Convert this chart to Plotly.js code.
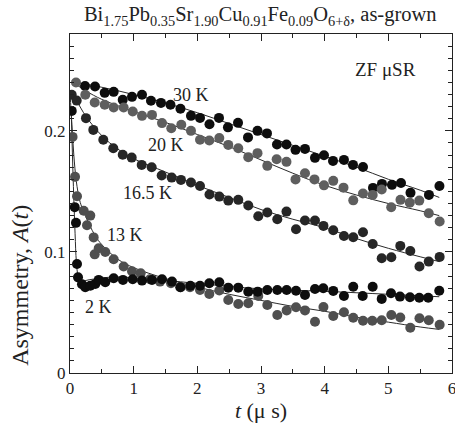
<!DOCTYPE html>
<html>
<head>
<meta charset="utf-8">
<script src="https://cdn.plot.ly/plotly-3.0.1.min.js"></script>
<style>html,body{margin:0;padding:0;background:#fff}#chart{width:455px;height:427px}</style>
</head>
<body>
<div id="chart"></div>
<script>
// ---- data (t in microseconds, asymmetry A(t)) ----
const t30 = [0.236,0.393,0.545,0.686,0.828,0.974,1.131,1.272,1.429,1.578,1.735,1.900,2.042,2.191,2.340,2.481,2.639,2.796,2.945,3.094,3.251,3.400,3.542,3.691,3.848,3.989,4.131,4.303,4.445,4.602,4.759,4.900,5.057,5.199,5.348,5.638,5.803];
const a30 = [0.237,0.2366,0.2314,0.2322,0.2256,0.2281,0.2298,0.2248,0.2231,0.2215,0.2182,0.2124,0.2107,0.2054,0.2107,0.2029,0.2066,0.1946,0.2000,0.1979,0.1888,0.1888,0.1843,0.1851,0.1777,0.1798,0.1752,0.1760,0.1719,0.1702,0.1529,0.1562,0.1554,0.1570,0.1488,0.1471,0.1545];

const t20 = [0.094,0.240,0.388,0.545,0.686,0.843,0.985,1.131,1.288,1.445,1.591,1.748,1.900,2.042,2.188,2.345,2.486,2.643,2.800,2.945,3.099,3.246,3.400,3.542,3.691,3.840,3.989,4.135,4.296,4.449,4.602,4.754,4.896,5.045,5.191,5.337,5.486,5.635,5.806];
const a20 = [0.2399,0.2298,0.2234,0.2215,0.2193,0.2193,0.2160,0.2124,0.2132,0.2064,0.2022,0.2050,0.2000,0.1926,0.1920,0.1940,0.1884,0.1857,0.1783,0.1816,0.1711,0.1766,0.1744,0.1599,0.1650,0.1599,0.1550,0.1587,0.1531,0.1426,0.1482,0.1471,0.1515,0.1369,0.1430,0.1407,0.1424,0.1320,0.1252];

const t165 = [0.027,0.105,0.251,0.366,0.523,0.680,0.828,0.969,1.126,1.283,1.440,1.597,1.743,1.900,2.042,2.191,2.345,2.486,2.643,2.800,2.957,3.099,3.256,3.400,3.550,3.691,3.848,3.981,4.135,4.303,4.449,4.602,4.754,4.896,5.047,5.188,5.345,5.489,5.635,5.806];
const a165 = [0.2298,0.2250,0.2105,0.2008,0.1926,0.1857,0.1802,0.1779,0.1719,0.1700,0.1631,0.1614,0.1595,0.1573,0.1545,0.1475,0.1457,0.1424,0.1430,0.1384,0.1295,0.1325,0.1270,0.1333,0.1188,0.1259,0.1259,0.1215,0.1179,0.1132,0.1121,0.1163,0.1066,0.0948,0.0956,0.1050,0.1008,0.0879,0.0920,0.0959];

const t13 = [0.040,0.079,0.110,0.215,0.267,0.319,0.372,0.388,0.451,0.554,0.686,0.843,0.974,1.110,1.256,1.414,1.586,1.739,1.885,2.042,2.188,2.345,2.486,2.643,2.800,2.957,3.099,3.256,3.403,3.550,3.691,3.848,3.981,4.135,4.303,4.449,4.602,4.748,4.896,5.047,5.188,5.345,5.489,5.635,5.806];
const a13 = [0.195,0.162,0.146,0.134,0.122,0.130,0.112,0.098,0.103,0.100,0.094,0.088,0.084,0.0824,0.0774,0.0755,0.0741,0.0708,0.0708,0.0686,0.0653,0.0682,0.0603,0.0570,0.0576,0.0636,0.0562,0.0479,0.0517,0.0543,0.0517,0.0424,0.0545,0.0471,0.0502,0.0457,0.0432,0.0432,0.0436,0.0479,0.0459,0.0374,0.0452,0.0436,0.0399];

const t2 = [0.027,0.074,0.094,0.110,0.126,0.188,0.240,0.319,0.397,0.451,0.554,0.686,0.832,0.985,1.131,1.288,1.445,1.602,1.732,1.890,2.042,2.188,2.345,2.486,2.643,2.800,2.948,3.099,3.256,3.403,3.550,3.691,3.848,3.978,4.135,4.303,4.449,4.597,4.754,4.896,5.042,5.183,5.340,5.486,5.627,5.800];
const a2 = [0.2165,0.137,0.124,0.090,0.079,0.0733,0.0708,0.0721,0.0736,0.0769,0.0750,0.0783,0.0769,0.0774,0.0763,0.0769,0.0774,0.0755,0.0708,0.0721,0.0721,0.0741,0.0750,0.0705,0.0705,0.0672,0.0672,0.0686,0.0686,0.0686,0.0680,0.0645,0.0694,0.0700,0.0678,0.0636,0.0713,0.0636,0.0713,0.0612,0.0659,0.0631,0.0626,0.0622,0.0622,0.0680];

// fitted curves
const fit30T = [0.08,0.5,1,1.5,2,2.5,3,3.5,4,4.5,5,5.5,5.8];
const fit30A = [0.240,0.236,0.230,0.223,0.215,0.206,0.197,0.188,0.179,0.170,0.160,0.151,0.145];
const fit20T = [0.05,0.25,0.5,1,1.5,2,2.5,3,3.5,4,4.5,5,5.5,5.8];
const fit20A = [0.240,0.233,0.226,0.216,0.207,0.197,0.187,0.176,0.165,0.155,0.147,0.140,0.134,0.130];
const fit165T = [0.0,0.1,0.25,0.5,0.75,1,1.5,2,2.5,3,3.5,4,4.5,5,5.5,5.8];
const fit165A = [0.232,0.225,0.212,0.196,0.185,0.177,0.166,0.155,0.145,0.135,0.127,0.120,0.111,0.103,0.096,0.092];
const fit13T = [0.0,0.03,0.06,0.1,0.15,0.2,0.3,0.4,0.5,0.75,1,1.5,2,2.5,3,3.5,4,4.5,5,5.5,5.8];
const fit13A = [0.232,0.205,0.180,0.158,0.143,0.135,0.123,0.113,0.106,0.094,0.087,0.078,0.071,0.065,0.060,0.055,0.051,0.046,0.042,0.038,0.036];
const fit2T = [0.02,0.05,0.08,0.1,0.13,0.18,0.3,0.6,1,1.5,2,3,4,5,5.8];
const fit2A = [0.215,0.160,0.115,0.092,0.080,0.076,0.077,0.079,0.0785,0.0765,0.074,0.0695,0.0675,0.065,0.063];

const labels = ['30 K','20 K','16.5 K','13 K','2 K'];

const FONT = '"Liberation Serif", "Times New Roman", Times, serif';
const TXT = '#222';
const lineColor = '#2a2a2a';
function fit(x,y){return {x:x,y:y,mode:'lines',type:'scatter',line:{color:lineColor,width:1,shape:'spline'},hoverinfo:'skip',showlegend:false};}
function pts(x,y,c){return {x:x,y:y,mode:'markers',type:'scatter',marker:{color:c,size:10,line:{width:0}},showlegend:false};}

const traces = [
  fit(fit30T,fit30A), fit(fit20T,fit20A), fit(fit165T,fit165A), fit(fit13T,fit13A), fit(fit2T,fit2A),
  pts(t30,a30,'#0d0d0d'), pts(t20,a20,'#5e5e5e'), pts(t165,a165,'#262626'), pts(t13,a13,'#4f4f4f'), pts(t2,a2,'#0d0d0d')
];

const labelPos = [[1.90,0.2298],[1.50,0.1884],[1.21,0.1488],[0.856,0.114],[0.448,0.0545]];
const annotations = labels.map((s,i)=>({x:labelPos[i][0],y:labelPos[i][1],xref:'x',yref:'y',text:s,showarrow:false,font:{family:FONT,size:18,color:TXT}}));
annotations.push({x:4.95,y:0.2504,xref:'x',yref:'y',text:'ZF μSR',showarrow:false,font:{family:FONT,size:19,color:TXT}});
// y-axis title (placed lower than centre, as in the reference)
annotations.push({x:-0.131,y:0.26,xref:'paper',yref:'paper',xanchor:'center',yanchor:'middle',textangle:-90,
  text:'Asymmetry, <i>A</i>(<i>t</i>)',showarrow:false,font:{family:FONT,size:24,color:TXT}});

const axisCommon = {showline:true,linecolor:'#222',linewidth:1,mirror:'ticks',ticks:'inside',ticklen:7,tickcolor:'#222',
  showgrid:false,zeroline:false,ticklabeloverflow:'allow',tickfont:{family:FONT,size:17,color:TXT}};

const layout = {
  width:455,height:427,
  margin:{l:70,r:3,t:34,b:54},
  paper_bgcolor:'#fff',plot_bgcolor:'#fff',
  showlegend:false,
  font:{family:FONT,color:TXT},
  title:{text:'Bi<sub>1.75</sub>Pb<sub>0.35</sub>Sr<sub>1.90</sub>Cu<sub>0.91</sub>Fe<sub>0.09</sub>O<sub>6+δ</sub>, as-grown',
    font:{family:FONT,size:20.5,color:TXT},x:0.572,xanchor:'center',y:0.967,yanchor:'middle'},
  xaxis:Object.assign({},axisCommon,{range:[0,6],dtick:1,tick0:0,
    minor:{dtick:0.5,ticks:'inside',ticklen:4,tickcolor:'#222'},
    title:{text:'<i>t</i> (μ s)',font:{family:FONT,size:22,color:TXT},standoff:2}}),
  yaxis:Object.assign({},axisCommon,{range:[0,0.28],dtick:0.1,tick0:0,
    minor:{dtick:0.01,ticks:'inside',ticklen:4,tickcolor:'#222'}}),
  annotations:annotations
};

Plotly.newPlot('chart',traces,layout,{displayModeBar:false,staticPlot:true});
</script>
</body>
</html>
